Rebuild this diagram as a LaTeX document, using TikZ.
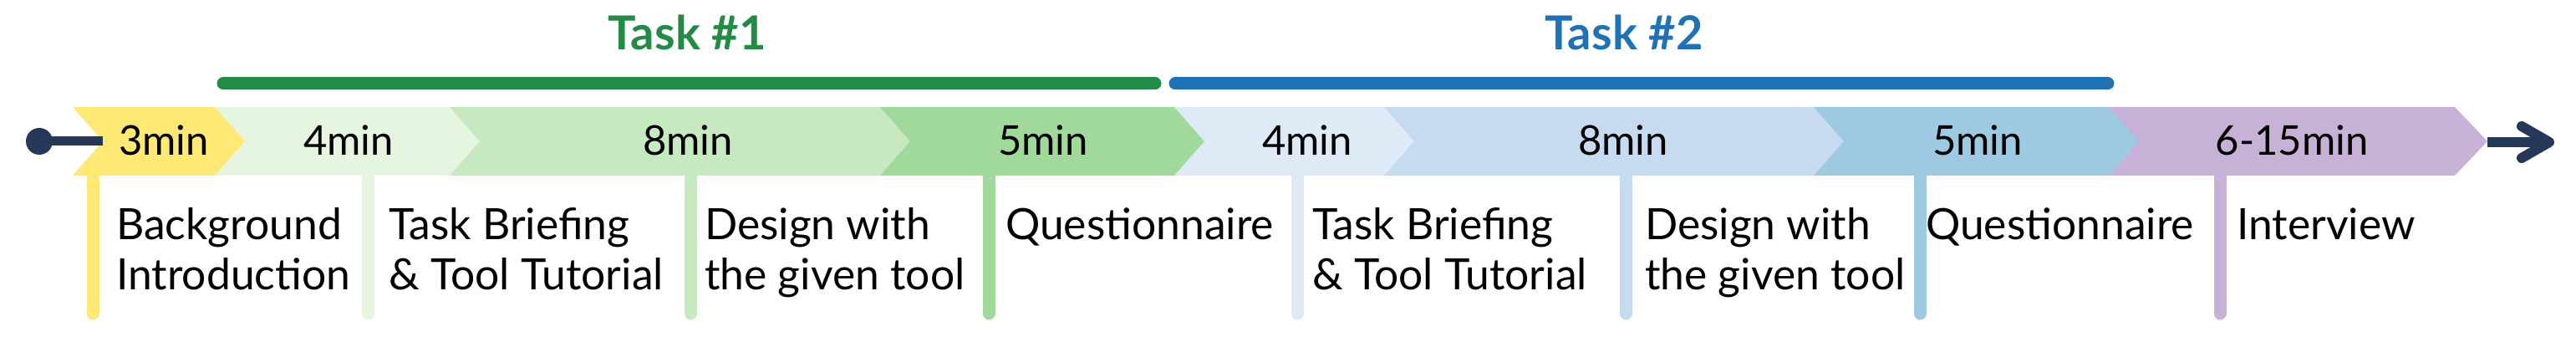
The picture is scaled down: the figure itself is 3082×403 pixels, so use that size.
\documentclass[tikz,border=0pt]{standalone}
\usepackage{fontspec}
\setmainfont{Lato}
\definecolor{cY}{HTML}{FFE873}
\definecolor{cGa}{HTML}{E5F5E0}
\definecolor{cGb}{HTML}{C7E9C0}
\definecolor{cGc}{HTML}{A1D99B}
\definecolor{cGd}{HTML}{238B45}
\definecolor{cBa}{HTML}{DEEBF7}
\definecolor{cBb}{HTML}{C6DBEF}
\definecolor{cBc}{HTML}{9ECAE1}
\definecolor{cBd}{HTML}{2171B5}
\definecolor{cP}{HTML}{C8B1D6}
\definecolor{navy}{HTML}{253858}
\begin{document}
\begin{tikzpicture}[x=1pt,y=-1pt,
  tick/.style={line width=15pt,line cap=round},
  dur/.style={anchor=base,inner sep=0pt,font=\fontsize{49}{58}\selectfont},
  desc/.style={anchor=base west,inner sep=0pt,font=\fontsize{51.6}{60}\selectfont},
  ttl/.style={anchor=base,inner sep=0pt,font=\fontsize{56}{66}\selectfont\bfseries},
  taskbar/.style={line width=15pt,line cap=round}]
\useasboundingbox (0,0) rectangle (3082,403);
% ticks
\foreach \x/\c [count=\i] in {111/cY,440/cGa,826/cGb,1183/cGc,1552/cBa,1945/cBb,2297/cBc,2656/cP}{
  \coordinate (t\i) at (\x,205);
  \coordinate (b\i) at (\x,375);
  \draw[tick,\c] (t\i) -- (b\i);
}
% segments
\foreach \l/\r/\c in {87/257/cY,257/538/cGa,538/1053/cGb,1053/1405/cGc,1405/1656/cBa,1656/2170/cBb,2170/2523/cBc,2523/2937/cP}{
  \fill[\c] (\l,128) -- (\r,128) -- (\r+39,169) -- (\r,210) -- (\l,210) -- (\l+36,169) -- cycle;
}
% start dot
\coordinate (dot) at (47,169);
\coordinate (notch) at (123,169);
\draw[navy,line width=11pt] (dot) -- (notch);
\fill[navy] (dot) circle (16);
% end arrow
\coordinate (tip) at (2976,170);
\coordinate (ahead) at (3050,170);
\coordinate (armA) at (3017,151);
\coordinate (armB) at (3017,189);
\draw[navy,line width=12pt] (tip) -- (ahead);
\draw[navy,line width=12pt,line cap=round,line join=round] (armA) -- (ahead) -- (armB);
% task bars
\coordinate (g1) at (267,100); \coordinate (g2) at (1382,100);
\coordinate (h1) at (1406,100); \coordinate (h2) at (2522,100);
\draw[taskbar,cGd] (g1) -- (g2);
\draw[taskbar,cBd] (h1) -- (h2);
\node[ttl,text=cGd] (task1) at (822,60) {Task \#1};
\node[ttl,text=cBd] (task2) at (1943,60) {Task \#2};
% durations
\node[dur] (d1) at (196,186) {3min};
\node[dur] (d2) at (417,186) {4min};
\node[dur] (d3) at (823,186) {8min};
\node[dur] (d4) at (1248,186) {5min};
\node[dur] (d5) at (1564,186) {4min};
\node[dur] (d6) at (1942,186) {8min};
\node[dur] (d7) at (2366,186) {5min};
\node[dur] (d8) at (2742,186) {6-15min};
% descriptions
\node[desc] (s1) at (139,287) {\begin{tabular}[t]{@{}l@{}}Background\\Introduction\end{tabular}};
\node[desc] (s2) at (465,287) {\begin{tabular}[t]{@{}l@{}}Task Briefing\\\& Tool Tutorial\end{tabular}};
\node[desc] (s3) at (843,287) {\begin{tabular}[t]{@{}l@{}}Design with\\the given tool\end{tabular}};
\node[desc] (s4) at (1203,287) {Questionnaire};
\node[desc] (s5) at (1570,287) {\begin{tabular}[t]{@{}l@{}}Task Briefing\\\& Tool Tutorial\end{tabular}};
\node[desc] (s6) at (1968,287) {\begin{tabular}[t]{@{}l@{}}Design with\\the given tool\end{tabular}};
\node[desc] (s7) at (2304,287) {Questionnaire};
\node[desc] (s8) at (2676,287) {Interview};
\end{tikzpicture}
\end{document}
